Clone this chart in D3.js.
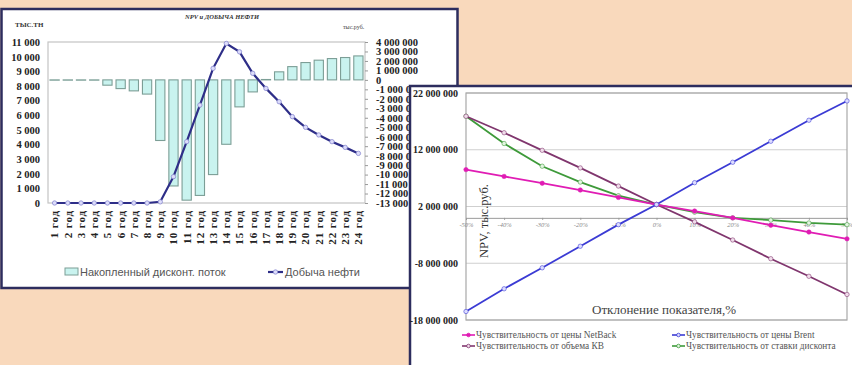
<!DOCTYPE html>
<html>
<head>
<meta charset="utf-8">
<script src="https://cdn.jsdelivr.net/npm/d3@7"></script>
<style>
  html, body { margin: 0; padding: 0; background: #f9d9bc; }
  svg { display: block; }
</style>
</head>
<body>
<svg id="chart" width="852" height="365"></svg>
<script>
// ---- Left chart: NPV and oil production by year ----
const years = ["1 год","2 год","3 год","4 год","5 год","6 год","7 год","8 год","9 год","10 год","11 год","12 год",
               "13 год","14 год","15 год","16 год","17 год","18 год","19 год","20 год","21 год","22 год","23 год","24 год"];
// cumulative discounted cash flow, тыс.руб.
const cumDiscFlow = [-30000,-30000,-30000,-30000,-560000,-920000,-1160000,-1500000,-6400000,-11200000,-12700000,-12200000,
                     -10000000,-6800000,-2850000,-1270000,40000,850000,1400000,1830000,2080000,2250000,2360000,2530000];
// oil production, тыс.т
const oilOutput = [0,0,0,0,0,0,0,0,80,1800,4190,6690,9200,10900,10330,8860,7830,6920,5900,5170,4650,4190,3800,3390];
const leftTicks = [0,1000,2000,3000,4000,5000,6000,7000,8000,9000,10000,11000];
const rightTicks = [4000000,3000000,2000000,1000000,0,-1000000,-2000000,-3000000,-4000000,-5000000,-6000000,-7000000,
                    -8000000,-9000000,-10000000,-11000000,-12000000,-13000000];

// ---- Right chart: NPV sensitivity ----
const deviations = ["-50%","-40%","-30%","-20%","-10%","0%","10%","20%","30%","40%","50%"];
const sensNetBack = [8500000,7300000,6100000,4900000,3600000,2350000,1200000,0,-1300000,-2500000,-3700000];
const sensBrent = [-16500000,-12500000,-8800000,-5000000,-1200000,2350000,6200000,9800000,13500000,17200000,20600000];
const sensCapex = [17900000,15000000,11900000,8800000,5600000,2350000,-700000,-3900000,-7200000,-10300000,-13500000];
const sensDiscount = [17900000,13100000,9100000,6300000,3900000,2350000,1000000,0,-400000,-900000,-1200000];
const npvTicks = [22000000,12000000,2000000,-8000000,-18000000];

const ru = d3.formatLocale({decimal: ",", thousands: " ", grouping: [3], currency: ["", ""], minus: "-"});
const fmt = ru.format(",d");

const svg = d3.select("#chart");
svg.append("rect").attr("width", 852).attr("height", 365).attr("fill", "#f9d9bc");

const SERIF = "'Liberation Serif', 'DejaVu Serif', serif";
const SANS = "'Liberation Sans', Arial, sans-serif";

// region of the left panel not covered by the right panel
svg.append("defs").append("clipPath").attr("id", "leftVisible")
  .append("path").attr("d", "M0,0H852V85H409V365H0Z");

// ================= Left panel =================
const L = svg.append("g");
L.append("rect").attr("x", 1.5).attr("y", 9).attr("width", 456).attr("height", 279)
  .attr("fill", "#ffffff").attr("stroke", "#2d2d5e").attr("stroke-width", 2.5);

const lp = {left: 48, right: 365, top: 42, bottom: 203};
const xb = d3.scaleBand().domain(years).range([lp.left, lp.right]).paddingInner(0.3).paddingOuter(0.15);
const yOil = d3.scaleLinear().domain([0, 11000]).range([lp.bottom, lp.top]);
const yNpv = d3.scaleLinear().domain([-13000000, 4000000]).range([lp.bottom, lp.top]);

L.append("rect").attr("x", lp.left).attr("y", lp.top).attr("width", lp.right - lp.left).attr("height", lp.bottom - lp.top)
  .attr("fill", "none").attr("stroke", "#c4c4c4").attr("stroke-width", 1.2);

// titles
L.append("text").attr("x", 15).attr("y", 27).attr("font-family", SERIF).attr("font-weight", "bold")
  .attr("font-size", 7).attr("fill", "#333").text("ТЫС.ТН");
L.append("text").attr("x", 222).attr("y", 19).attr("text-anchor", "middle").attr("font-family", SERIF)
  .attr("font-weight", "bold").attr("font-style", "italic").attr("font-size", 6.5).attr("fill", "#333").text("NPV и ДОБЫЧА НЕФТИ");
L.append("text").attr("x", 343).attr("y", 29).attr("font-family", SERIF).attr("font-size", 6)
  .attr("fill", "#444").text("тыс.руб.");

// left axis (oil)
const axL = L.append("g").attr("transform", `translate(${lp.left},0)`)
  .call(d3.axisLeft(yOil).tickValues(leftTicks).tickFormat(fmt).tickSize(0).tickPadding(8));
axL.select(".domain").remove();
axL.selectAll("text").attr("font-family", SERIF).attr("font-weight", "bold").attr("font-size", 10.5).attr("fill", "#222");

// right axis (NPV), partly hidden under the right panel
const axR = L.append("g").attr("clip-path", "url(#leftVisible)").append("g")
  .attr("transform", `translate(${lp.right},0)`)
  .call(d3.axisRight(yNpv).tickValues(rightTicks).tickFormat(fmt).tickSize(3).tickPadding(8));
axR.select(".domain").remove();
axR.selectAll("line").attr("stroke", "#999");
axR.selectAll("text").attr("font-family", SERIF).attr("font-weight", "bold").attr("font-size", 10.5).attr("fill", "#222");

// bars
L.append("g").selectAll("rect").data(years).join("rect")
  .attr("x", d => xb(d))
  .attr("width", xb.bandwidth())
  .attr("y", (d, i) => yNpv(Math.max(0, cumDiscFlow[i])))
  .attr("height", (d, i) => Math.abs(yNpv(cumDiscFlow[i]) - yNpv(0)))
  .attr("fill", "#c9f3ef").attr("stroke", "#7c9e96").attr("stroke-width", 1.1);

// oil line
const cx = d => xb(d) + xb.bandwidth() / 2;
L.append("path").datum(years)
  .attr("d", d3.line().x(cx).y((d, i) => yOil(oilOutput[i])))
  .attr("fill", "none").attr("stroke", "#2e2e88").attr("stroke-width", 2.2);
L.append("g").selectAll("circle").data(years).join("circle")
  .attr("cx", cx).attr("cy", (d, i) => yOil(oilOutput[i])).attr("r", 2.2)
  .attr("fill", "#dcdcfa").attr("stroke", "#8a8ad0").attr("stroke-width", 0.8);

// x labels
L.append("g").selectAll("text").data(years).join("text")
  .attr("transform", d => `translate(${cx(d)},210) rotate(-90)`)
  .attr("text-anchor", "end").attr("dy", "0.35em")
  .attr("font-family", SERIF).attr("font-weight", "bold").attr("font-size", 11).attr("letter-spacing", 0.9)
  .attr("fill", "#222").text(d => d);

// legend
L.append("rect").attr("x", 65).attr("y", 268).attr("width", 13).attr("height", 7)
  .attr("fill", "#c9f3ef").attr("stroke", "#7c9e96");
L.append("text").attr("x", 80).attr("y", 275.5).attr("font-family", SANS).attr("font-size", 11)
  .attr("fill", "#555").text("Накопленный дисконт. поток");
L.append("line").attr("x1", 268).attr("x2", 283).attr("y1", 272).attr("y2", 272)
  .attr("stroke", "#2e2e88").attr("stroke-width", 2.2);
L.append("circle").attr("cx", 275.5).attr("cy", 272).attr("r", 2.2)
  .attr("fill", "#dcdcfa").attr("stroke", "#8a8ad0").attr("stroke-width", 0.8);
L.append("text").attr("x", 285).attr("y", 275.5).attr("font-family", SANS).attr("font-size", 11)
  .attr("fill", "#555").text("Добыча нефти");

// ================= Right panel =================
const R = svg.append("g");
R.append("rect").attr("x", 410).attr("y", 86).attr("width", 460).attr("height", 300)
  .attr("fill", "#ffffff").attr("stroke", "#2d2d5e").attr("stroke-width", 2.5);

const rp = {left: 466, right: 847, top: 93, bottom: 320};
const xp = d3.scalePoint().domain(deviations).range([rp.left, rp.right]);
const yS = d3.scaleLinear().domain([-18000000, 22000000]).range([rp.bottom, rp.top]);

// gridlines
R.append("g").selectAll("line").data(npvTicks).join("line")
  .attr("x1", rp.left).attr("x2", rp.right).attr("y1", d => yS(d)).attr("y2", d => yS(d))
  .attr("stroke", "#cfcfcf").attr("stroke-width", 1);
R.append("rect").attr("x", rp.left).attr("y", rp.top).attr("width", rp.right - rp.left).attr("height", rp.bottom - rp.top)
  .attr("fill", "none").attr("stroke", "#a8a8a8").attr("stroke-width", 1.2);

const axS = R.append("g").attr("transform", `translate(${rp.left},0)`)
  .call(d3.axisLeft(yS).tickValues(npvTicks).tickFormat(fmt).tickSize(0).tickPadding(8));
axS.select(".domain").remove();
axS.selectAll("text").attr("font-family", SERIF).attr("font-weight", "bold").attr("font-size", 10).attr("fill", "#222");

// category axis at zero
const axX = R.append("g").attr("transform", `translate(0,${yS(0)})`)
  .call(d3.axisBottom(xp).tickSize(2).tickPadding(3));
axX.select(".domain").attr("stroke", "#9a9a9a");
axX.selectAll("line").attr("stroke", "#9a9a9a");
axX.selectAll("text").attr("font-family", SERIF).attr("font-style", "italic").attr("font-size", 6.5).attr("fill", "#888");

// axis titles
R.append("text").attr("transform", "translate(488,221) rotate(-90)").attr("text-anchor", "middle")
  .attr("font-family", SERIF).attr("font-size", 12.5).attr("fill", "#333").text("NPV, тыс.руб.");
R.append("text").attr("x", 664).attr("y", 314).attr("text-anchor", "middle")
  .attr("font-family", SERIF).attr("font-size", 13).attr("fill", "#444").text("Отклонение показателя,%");

const series = [
  {name: "Чувствительность от цены NetBack", values: sensNetBack, color: "#e01cb4", mfill: "#e01cb4", lx: 462, ly: 335},
  {name: "Чувствительность от цены Brent", values: sensBrent, color: "#3b3bd4", mfill: "#dcdcff", lx: 672, ly: 335},
  {name: "Чувствительность от объема КВ", values: sensCapex, color: "#80366e", mfill: "#f0dcea", lx: 462, ly: 346},
  {name: "Чувствительность от ставки дисконта", values: sensDiscount, color: "#3e9a3a", mfill: "#e2f5e0", lx: 672, ly: 346}
];
// draw discount & capex under the others
const order = [3, 2, 0, 1];
order.forEach(k => {
  const s = series[k];
  R.append("path").datum(deviations)
    .attr("d", d3.line().x(d => xp(d)).y((d, i) => yS(s.values[i])))
    .attr("fill", "none").attr("stroke", s.color).attr("stroke-width", 1.8);
  R.append("g").selectAll("circle").data(deviations).join("circle")
    .attr("cx", d => xp(d)).attr("cy", (d, i) => yS(s.values[i])).attr("r", 2.2)
    .attr("fill", s.mfill).attr("stroke", s.color).attr("stroke-width", 0.8).attr("stroke-opacity", 0.7);
});

// legend
series.forEach(s => {
  R.append("line").attr("x1", s.lx).attr("x2", s.lx + 13).attr("y1", s.ly).attr("y2", s.ly)
    .attr("stroke", s.color).attr("stroke-width", 1.6);
  R.append("circle").attr("cx", s.lx + 6.5).attr("cy", s.ly).attr("r", 1.8)
    .attr("fill", s.mfill).attr("stroke", s.color).attr("stroke-width", 0.8);
  R.append("text").attr("x", s.lx + 14).attr("y", s.ly + 3).attr("font-family", SERIF)
    .attr("font-size", 9.3).attr("fill", "#555").text(s.name);
});
</script>
</body>
</html>
